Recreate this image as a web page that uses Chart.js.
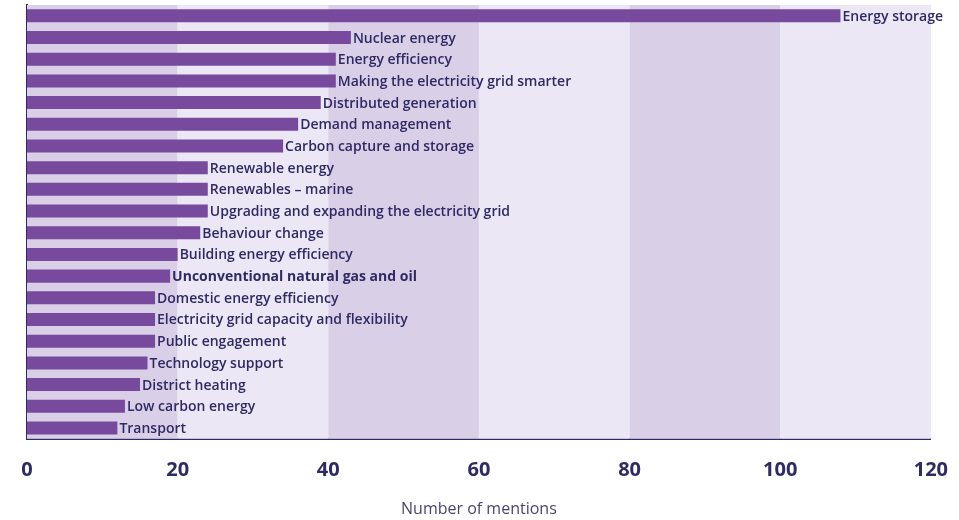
<!DOCTYPE html>
<html>
<head>
<meta charset="utf-8">
<script src="https://cdn.jsdelivr.net/npm/chart.js@4"></script>
<style>
  html, body { margin: 0; padding: 0; background: #fff; }
  #wrap { width: 959px; height: 520px; }
</style>
</head>
<body>
<div id="wrap"><canvas id="mentionsChart" width="959" height="520"></canvas></div>
<script>
// categories, top to bottom
const topics = [
  'Energy storage', 'Nuclear energy', 'Energy efficiency', 'Making the electricity grid smarter',
  'Distributed generation', 'Demand management', 'Carbon capture and storage', 'Renewable energy',
  'Renewables \u2013 marine', 'Upgrading and expanding the electricity grid', 'Behaviour change',
  'Building energy efficiency', 'Unconventional natural gas and oil', 'Domestic energy efficiency',
  'Electricity grid capacity and flexibility', 'Public engagement', 'Technology support',
  'District heating', 'Low carbon energy', 'Transport'
];
const mentions = [108, 43, 41, 41, 39, 36, 34, 24, 24, 24, 23, 20, 19, 17, 17, 17, 16, 15, 13, 12];
const xTicks = [0, 20, 40, 60, 80, 100, 120];

const ink = '#2f2a63';
const barColour = '#774a9d';

// alternating shaded columns behind the bars
const bandsPlugin = {
  id: 'bands',
  beforeDatasetsDraw(chart) {
    const ctx = chart.ctx;
    const x = chart.scales.x;
    const area = chart.chartArea;
    ctx.save();
    for (let i = 0; i < xTicks.length - 1; i++) {
      const x0 = x.getPixelForValue(xTicks[i]);
      const x1 = x.getPixelForValue(xTicks[i + 1]);
      ctx.fillStyle = i % 2 === 0 ? '#d9cfe7' : '#ebe7f4';
      ctx.fillRect(x0, area.top, x1 - x0, area.bottom - area.top);
    }
    ctx.restore();
  }
};

// category names at the end of each bar
const endLabels = {
  id: 'endLabels',
  afterDatasetsDraw(chart) {
    const ctx = chart.ctx;
    const meta = chart.getDatasetMeta(0);
    ctx.save();
    ctx.fillStyle = ink;
    ctx.textBaseline = 'middle';
    ctx.textAlign = 'left';
    meta.data.forEach((bar, i) => {
      ctx.font = (i === 12 ? '700' : '600') + ' 14px "Open Sans"';
      ctx.fillText(topics[i], bar.x + 2, bar.y + 1);
    });
    ctx.restore();
  }
};

const ctx = document.getElementById('mentionsChart').getContext('2d');
new Chart(ctx, {
  type: 'bar',
  data: {
    labels: topics,
    datasets: [{
      data: mentions,
      backgroundColor: barColour,
      borderWidth: 0,
      barPercentage: 0.6,
      categoryPercentage: 1
    }]
  },
  options: {
    indexAxis: 'y',
    responsive: false,
    animation: false,
    layout: { padding: { left: 26, right: 18, top: 5, bottom: 1 } },
    plugins: {
      legend: { display: false },
      tooltip: { enabled: false }
    },
    scales: {
      x: {
        min: 0,
        max: 120,
        afterBuildTicks(scale) { scale.ticks = xTicks.map(v => ({ value: v })); },
        grid: { display: false },
        border: { display: true, color: ink, width: 2 },
        ticks: {
          color: ink,
          padding: 11,
          font: { family: '"Open Sans"', size: 20, weight: '700' }
        },
        title: {
          display: true,
          text: 'Number of mentions',
          color: '#4a4570',
          padding: { top: 7, bottom: 0 },
          font: { family: '"Open Sans"', size: 16 }
        }
      },
      y: {
        grid: { display: false },
        border: { display: true, color: ink, width: 2 },
        ticks: { display: false },
        afterFit(scale) { scale.width = 1; }
      }
    }
  },
  plugins: [bandsPlugin, endLabels]
});
</script>
</body>
</html>
